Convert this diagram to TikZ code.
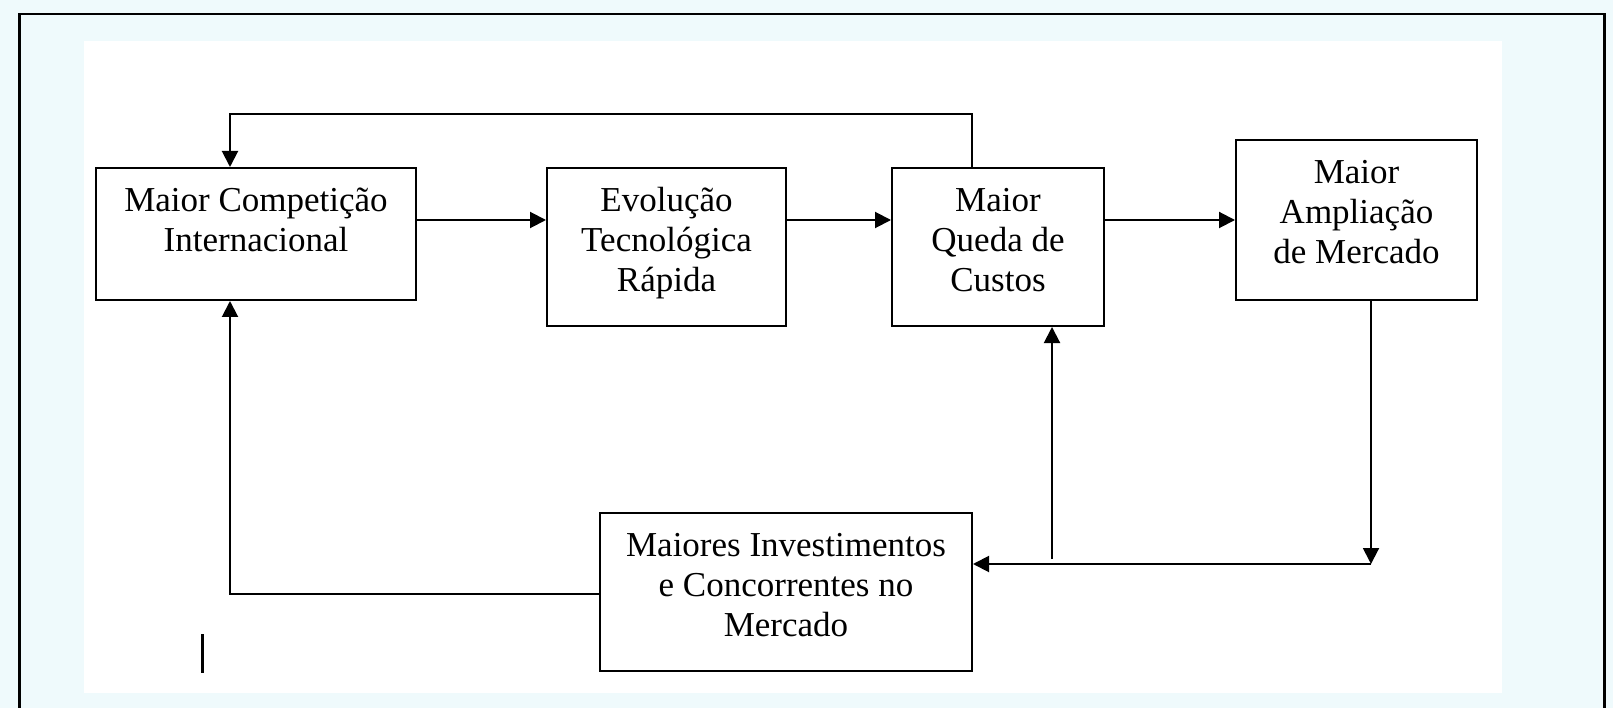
\documentclass[tikz,border=0pt]{standalone}
\usepackage{fontspec}
\setmainfont{Liberation Serif}
\usetikzlibrary{arrows.meta}
\definecolor{bgcyan}{RGB}{239,250,252}
\begin{document}
\begin{tikzpicture}[x=1pt,y=-1pt,
  box/.style={draw, line width=2pt, inner sep=0pt, fill=white},
  lbl/.style={anchor=north, inner sep=0pt, align=center, font=\fontsize{35}{40}\selectfont},
  conn/.style={line width=2pt},
  arr/.style={conn, -{Triangle[width=16pt,length=16pt]}}]
\useasboundingbox (0,0) rectangle (1613,708);
\clip (0,0) rectangle (1613,708);
\fill[bgcyan] (0,0) rectangle (1613,708);
\fill[white] (84,41) rectangle (1502,693);
\draw[line width=2.5pt] (19.5,730) -- (19.5,14) -- (1604.7,14) -- (1604.7,730);

\node[box, minimum width=320pt, minimum height=132pt] (b1) at (256,234) {};
\node[box, minimum width=239pt, minimum height=158pt] (b2) at (666.5,247) {};
\node[box, minimum width=212pt, minimum height=158pt] (b3) at (998,247) {};
\node[box, minimum width=241pt, minimum height=160pt] (b4) at (1356.5,220) {};
\node[box, minimum width=372pt, minimum height=158pt] (b5) at (786,592) {};

\node[lbl] (t1) at ([yshift=-16pt]b1.north) {\strut Maior Competição\\Internacional};
\node[lbl] (t2) at ([yshift=-16pt]b2.north) {\strut Evolução\\Tecnológica\\Rápida};
\node[lbl] (t3) at ([yshift=-16pt]b3.north) {\strut Maior\\Queda de\\Custos};
\node[lbl] (t4) at ([yshift=-16pt]b4.north) {\strut Maior\\Ampliação\\de Mercado};
\node[lbl] (t5) at ([yshift=-16pt]b5.north) {\strut Maiores Investimentos\\e Concorrentes no\\Mercado};

\coordinate (tl) at (230,114);
\coordinate (tr) at (972,114);
\coordinate (c1) at (1371,564);
\coordinate (c2) at (1052,559);
\coordinate (c3) at (230,594);

\draw[arr] (b1.east |- 0,220) -- (b2.west |- 0,220);
\draw[arr] (b2.east |- 0,220) -- (b3.west |- 0,220);
\draw[arr] (b3.east |- 0,220) -- (b4.west |- 0,220);
\draw[arr] (b3.north -| tr) -- (tr) -- (tl) -- (b1.north -| tl);
\draw[arr] (b4.south -| c1) -- (c1);
\draw[arr] (c1) -- (b5.east |- c1);
\draw[arr] (c2) -- (b3.south -| c2);
\draw[arr] (b5.west |- c3) -- (c3) -- (b1.south -| c3);

\draw[line width=3pt] (202,634) -- (202,673);
\end{tikzpicture}
\end{document}
